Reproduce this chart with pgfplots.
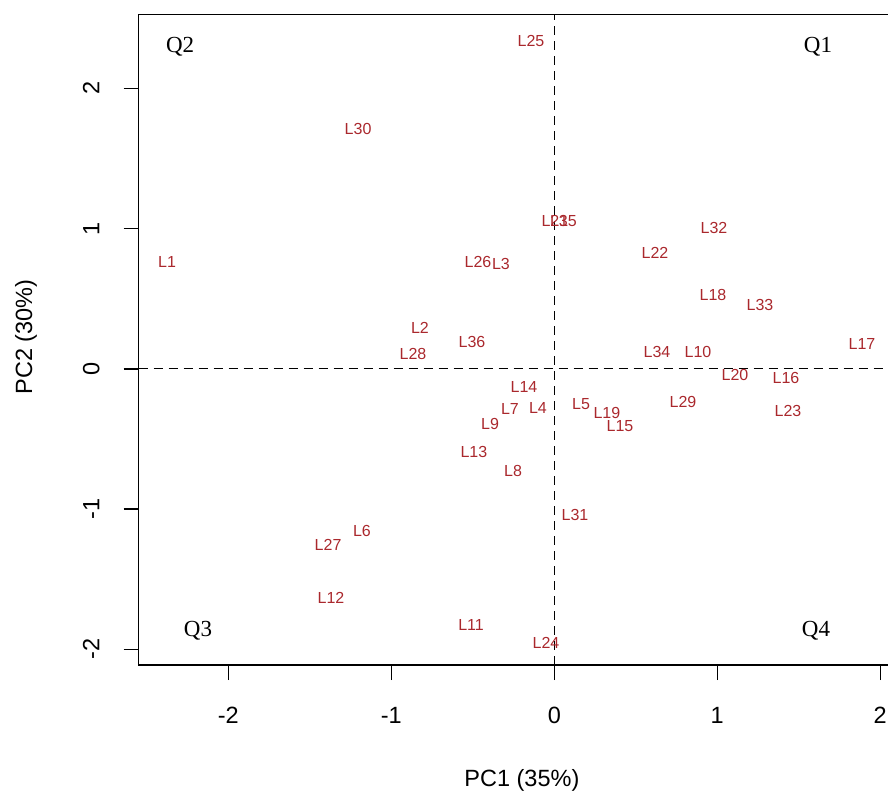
\documentclass[border=0pt]{standalone}
\usepackage{fontspec}
\setmainfont{Liberation Sans}
\newfontfamily\qfont{Liberation Serif}
\usepackage{pgfplots}
\pgfplotsset{compat=1.18}
\usepackage{pgfplotstable}
\definecolor{lblred}{RGB}{170,40,45}

% PCA scores of the 36 lines (PC1, PC2)
\pgfplotstableread{
x      y      label
-2.376  0.762 L1
-0.824  0.291 L2
-0.327  0.747 L3
-0.100 -0.280 L4
 0.164 -0.251 L5
-1.180 -1.158 L6
-0.272 -0.287 L7
-0.253 -0.729 L8
-0.394 -0.394 L9
 0.882  0.120 L10
-0.511 -1.828 L11
-1.370 -1.636 L12
-0.493 -0.594 L13
-0.186 -0.130 L14
 0.403 -0.408 L15
 1.422 -0.066 L16
 1.888  0.177 L17
 0.974  0.526 L18
 0.323 -0.315 L19
 1.109 -0.044 L20
 0.004  1.054 L21
 0.618  0.826 L22
 1.434 -0.301 L23
-0.051 -1.956 L24
-0.143  2.337 L25
-0.468  0.762 L26
-1.388 -1.258 L27
-0.867  0.105 L28
 0.790 -0.237 L29
-1.204  1.709 L30
 0.127 -1.043 L31
 0.980  1.004 L32
 1.262  0.455 L33
 0.630  0.120 L34
 0.056  1.054 L35
-0.505  0.191 L36
}\scores

\begin{document}
\begin{tikzpicture}
\useasboundingbox (0,0) rectangle (888bp,796bp);
\clip (0,0) rectangle (888bp,796bp);
\begin{axis}[
  at={(138.7bp,131bp)}, anchor=south west,
  scale only axis, width=766.3bp, height=650.7bp,
  xmin=-2.550, xmax=2.152, ymin=-2.112, ymax=2.528,
  axis line style={line width=1.4bp},
  xtick={-2,-1,0,1,2}, xticklabels={-2,-1,0,1,2},
  ytick={-2,-1,0,1,2}, yticklabels={-2,-1,0,1,2},
  xtick pos=bottom, ytick pos=left,
  tick align=outside, major tick length=15bp,
  tick style={line width=1.4bp, black},
  ticklabel style={font=\fontsize{23.5bp}{28bp}\selectfont},
  xticklabel style={anchor=north, inner sep=0pt},
  yticklabel style={rotate=90, anchor=south, inner sep=0pt},
  xticklabel shift=27bp, yticklabel shift=24bp,
]
% reference lines through the origin
\addplot[black, line width=1.3bp, dash pattern=on 9bp off 6bp] coordinates {(0,-2.112) (0,2.528)};
\addplot[black, line width=1.3bp, dash pattern=on 9bp off 6bp] coordinates {(-2.550,0) (2.152,0)};

% line labels at their scores
\addplot[only marks, mark=none, nodes near coords, point meta=explicit symbolic,
  nodes near coords style={anchor=center, inner sep=0pt, text=lblred,
    font=\fontsize{16bp}{19bp}\selectfont}]
  table[x=x, y=y, meta=label] {\scores};

% quadrant names
\begin{scope}[every node/.style={font=\qfont\fontsize{23bp}{27bp}\selectfont}]
\node at (axis cs:1.618,2.294) {Q1};
\node at (axis cs:-2.296,2.294) {Q2};
\node at (axis cs:-2.186,-1.870) {Q3};
\node at (axis cs:1.606,-1.870) {Q4};
\end{scope}
\end{axis}
\node[font=\fontsize{23.5bp}{28bp}\selectfont] at (521.9bp,16bp) {PC1 (35\%)};
\node[rotate=90, font=\fontsize{23.5bp}{28bp}\selectfont] at (26bp,459bp) {PC2 (30\%)};
\end{tikzpicture}
\end{document}
